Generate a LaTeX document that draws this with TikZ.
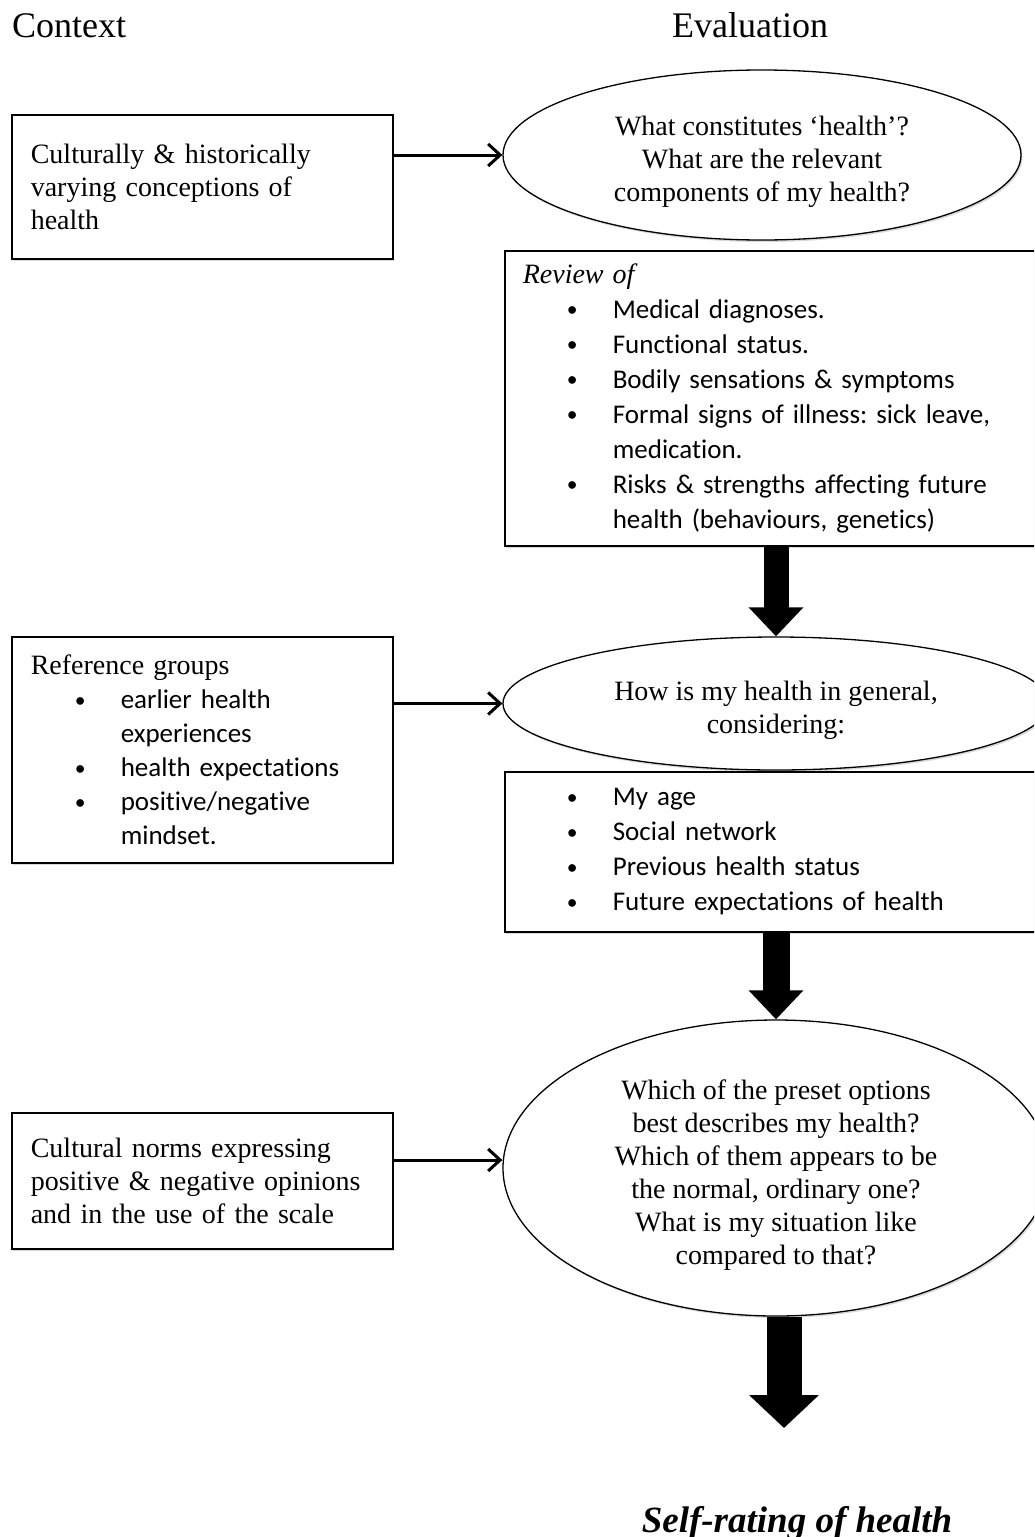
\documentclass[tikz,border=0pt]{standalone}
\usepackage{fontspec}
\setmainfont{Liberation Serif}
\setsansfont{Carlito}[Ligatures=NoCommon]
\usetikzlibrary{positioning,shapes.geometric,arrows.meta,shadows}

\newcommand{\bitem}[1]{\hspace*{44pt}\makebox[46pt][l]{\raisebox{1.5pt}{\scalebox{0.8}{\textbullet}}}#1}
\newcommand{\bcont}[1]{\hspace*{90pt}#1}
\newcommand{\qtop}{\rule{0pt}{33pt}}

\tikzset{
  head/.style={font=\fontsize{36}{40}\selectfont, inner sep=0pt},
  softshadow/.style={drop shadow={shadow xshift=1.5pt, shadow yshift=-2pt, opacity=0.3}},
  ctxbox/.style={draw, line width=1.6pt, fill=white, softshadow, anchor=north west,
    minimum width=381pt, inner xsep=19pt, text width=343pt, align=left,
    font=\fontsize{28}{33}\selectfont\frenchspacing},
  evalbox/.style={draw, line width=1.6pt, fill=white, softshadow, anchor=north west,
    minimum width=560pt, inner xsep=18pt, text width=524pt, align=left,
    font=\sffamily\fontsize{27}{35}\selectfont\frenchspacing},
  question/.style={ellipse, draw, line width=1.3pt, fill=white, softshadow,
    inner sep=0pt, align=center, font=\fontsize{28}{33}\selectfont},
  linkarrow/.style={line width=3pt, -{Straight Barb[length=12pt, width=22pt]}},
  bigarrow/.style={line width=25pt, -{Triangle[width=53pt, length=29pt]}}
}

\begin{document}
\begin{tikzpicture}[x=1pt, y=-1pt]
  \useasboundingbox (0,0) rectangle (1034,1537);
  \clip (0,0) rectangle (1034,1537);

  % column heads
  \node[head, anchor=base west] (context) at (12,37) {Context};
  \node[head, anchor=base west] (evaluation) at (672,37) {Evaluation};

  % context column
  \node[ctxbox, minimum height=144pt] (concepts) at (11,114)
    {Culturally \& historically\\varying conceptions of\\health};
  \node[ctxbox, minimum height=226pt, font=\sffamily\fontsize{27}{34}\selectfont] (refgroups) at (11,636)
    {{\rmfamily\fontsize{28}{33}\selectfont Reference groups}\\
     \bitem{earlier health}\\
     \bcont{experiences}\\
     \bitem{health expectations}\\
     \bitem{positive/negative}\\
     \bcont{mindset.}};
  \node[ctxbox, minimum height=136pt] (norms) at (11,1112)
    {Cultural norms expressing\\positive \& negative opinions\\and in the use of the scale};

  % evaluation column
  \node[question, minimum width=518pt, minimum height=170pt] (what) at (762,155)
    {\qtop What constitutes `health'?\\What are the relevant\\components of my health?};
  \node[evalbox, minimum height=295pt] (review) at (504,250)
    {{\rmfamily\itshape\fontsize{28}{33}\selectfont Review of}\\
     \bitem{Medical diagnoses.}\\
     \bitem{Functional status.}\\
     \bitem{Bodily sensations \& symptoms}\\
     \bitem{Formal signs of illness: sick leave,}\\
     \bcont{medication.}\\
     \bitem{Risks \& strengths affecting future}\\
     \bcont{health (behaviours, genetics)}};
  \node[question, minimum width=546pt, minimum height=133pt] (general) at (776,703.5)
    {\qtop How is my health in general,\\considering:};
  \node[evalbox, minimum height=160pt] (considering) at (504,771)
    {\bitem{My age}\\
     \bitem{Social network}\\
     \bitem{Previous health status}\\
     \bitem{Future expectations of health}};
  \node[question, minimum width=546pt, minimum height=296pt] (options) at (776,1168)
    {\qtop Which of the preset options\\best describes my health?\\Which of them appears to be\\the normal, ordinary one?\\What is my situation like\\compared to that?};

  \node[font=\fontsize{37}{44}\selectfont\bfseries\itshape, anchor=base, inner sep=0pt] (rating) at (797,1532)
    {Self-rating of health};
  \coordinate (out) at (784,1428);

  % connectors
  \draw[linkarrow] (what.west -| concepts.east) -- (what.west);
  \draw[linkarrow] (general.west -| refgroups.east) -- (general.west);
  \draw[linkarrow] ([yshift=8pt]options.west -| norms.east) -- ([yshift=8pt]options.west);

  \draw[bigarrow] (review.south -| general.north) -- (general.north);
  \draw[bigarrow, line width=27pt] (considering.south -| options.north) -- (options.north);
  \draw[bigarrow, line width=35pt, -{Triangle[width=68pt, length=33pt]}] (options.south -| out) -- (out);
\end{tikzpicture}
\end{document}
